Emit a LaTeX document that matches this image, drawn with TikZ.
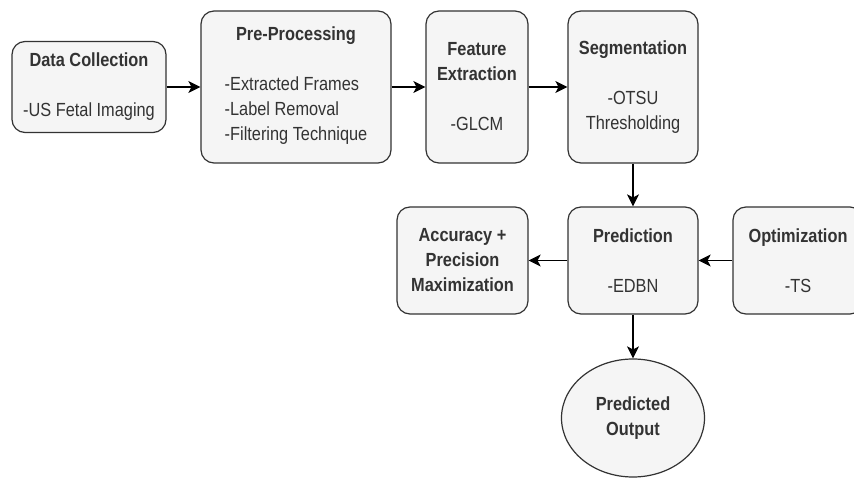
\documentclass[tikz,border=0pt]{standalone}
\usepackage{fontspec}
\setmainfont{Liberation Sans}[FakeStretch=0.86]
\usetikzlibrary{arrows.meta,shapes.geometric}
\definecolor{boxfill}{HTML}{F5F5F5}
\definecolor{boxline}{HTML}{333333}
\definecolor{txt}{HTML}{333333}
\begin{document}
\begin{tikzpicture}[x=1pt,y=-1pt,
  box/.style={draw=boxline, fill=boxfill, line width=1.2pt, rounded corners=13pt,
    align=center, text=txt, inner sep=0pt, font=\fontsize{19}{25}\selectfont},
  oval/.style={ellipse, draw=boxline, fill=boxfill, line width=1.2pt,
    align=center, text=txt, inner sep=0pt, font=\fontsize{19}{25}\selectfont},
  arr/.style={-{Stealth[length=12pt,width=12pt,inset=3pt]}, line width=1.1pt, black}]
\useasboundingbox (0,0) rectangle (854,478);
\fill[white] (0,0) rectangle (854,478);
\node[box, minimum width=154pt, minimum height=91pt] (dc) at (89,87)
  {\textbf{Data Collection}\\[25pt]-US Fetal Imaging};
\node[box, minimum width=190pt, minimum height=152pt] (pp) at (296,87)
  {\textbf{Pre-Processing}\\[25pt]\begin{tabular}[t]{@{}l@{}}-Extracted Frames\\-Label Removal\\-Filtering Technique\end{tabular}};
\node[box, minimum width=102pt, minimum height=152pt] (fe) at (477,87)
  {\textbf{Feature}\\\textbf{Extraction}\\[25pt]-GLCM};
\node[box, minimum width=130pt, minimum height=152pt] (seg) at (633,87)
  {\textbf{Segmentation}\\[25pt]-OTSU\\Thresholding};
\node[box, minimum width=130pt, minimum height=107pt] (pred) at (633,260.5)
  {\textbf{Prediction}\\[25pt]-EDBN};
\node[box, minimum width=131pt, minimum height=107pt] (acc) at (462.5,260.5)
  {\textbf{Accuracy +}\\\textbf{Precision}\\\textbf{Maximization}};
\node[box, minimum width=130pt, minimum height=107pt] (opt) at (798,260.5)
  {\textbf{Optimization}\\[25pt]-TS};
\node[oval, minimum width=143pt, minimum height=118pt] (out) at (633,418)
  {\textbf{Predicted}\\\textbf{Output}};
\draw[arr] (dc) -- (pp);
\draw[arr] (pp) -- (fe);
\draw[arr] (fe) -- (seg);
\draw[arr] (seg) -- (pred);
\draw[arr] (pred) -- (acc);
\draw[arr] (opt) -- (pred);
\draw[arr] (pred) -- (out);
\end{tikzpicture}
\end{document}
